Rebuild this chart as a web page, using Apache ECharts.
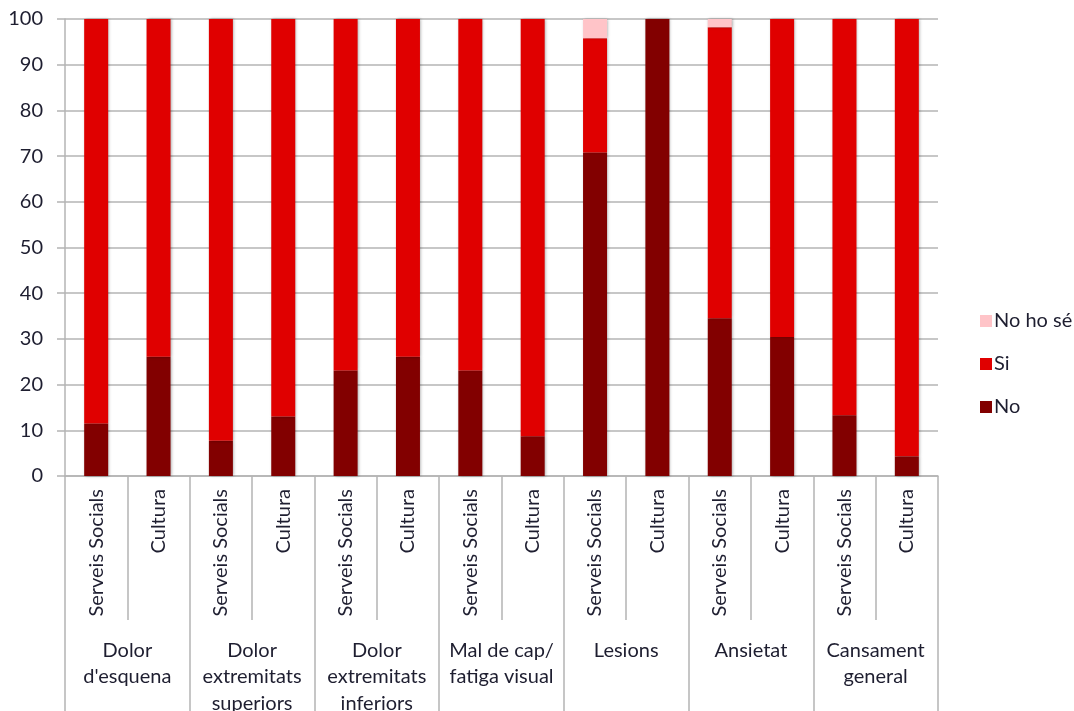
<!DOCTYPE html>
<html>
<head>
<meta charset="utf-8">
<script src="https://cdn.jsdelivr.net/npm/echarts@6/dist/echarts.min.js"></script>
<style>
  html, body { margin: 0; padding: 0; background: #fff; overflow: hidden; }
  #chart { width: 1074px; height: 711px; }
</style>
</head>
<body>
<div id="chart"></div>
<script>
// Sub-categories (sector) per symptom group
const groups = ["Dolor\nd'esquena", "Dolor\nextremitats\nsuperiors", "Dolor\nextremitats\ninferiors",
  "Mal de cap/\nfatiga visual", "Lesions", "Ansietat", "Cansament\ngeneral"];
const sectors = ["Serveis Socials", "Cultura"];
const categories = [];
groups.forEach(() => sectors.forEach(s => categories.push(s)));

// Percentages for each answer, one value per bar (group x sector)
const noValues     = [11.5, 26.1, 7.7, 13.0, 23.1, 26.1, 23.1, 8.7, 70.8, 100, 34.5, 30.4, 13.3, 4.3];
const noHoSeValues = [0, 0, 0, 0, 0, 0, 0, 0, 4.2, 0, 1.8, 0, 0, 0];
const siValues     = [88.5, 73.9, 92.3, 87.0, 76.9, 73.9, 76.9, 91.3, 25.0, 0, 63.7, 69.6, 86.7, 95.7];

const yTicks = { min: 0, max: 100, interval: 10 };

const FONT = 'Lato, "Open Sans", sans-serif';
const TEXT = '#1e1e30';
const GRID = '#b4b4b4';
const FS = 20;

const chart = echarts.init(document.getElementById('chart'), null, { renderer: 'canvas' });

const barShadow = { shadowColor: 'rgba(0,0,0,0.35)', shadowBlur: 3, shadowOffsetX: 1, shadowOffsetY: 0 };

chart.setOption({
  animation: false,
  backgroundColor: '#ffffff',
  textStyle: { fontFamily: FONT },
  grid: { left: 65, right: 136, top: 19, bottom: 235, containLabel: false, outerBoundsMode: 'none' },
  legend: {
    orient: 'vertical',
    left: 975,
    top: 306,
    itemWidth: 12,
    itemHeight: 12,
    itemGap: 23,
    icon: 'rect',
    textStyle: { fontFamily: FONT, fontSize: FS, color: TEXT, padding: [0, 0, 0, -3] },
    data: ['No ho sé', 'Si', 'No']
  },
  xAxis: [
    {
      type: 'category',
      data: categories,
      position: 'bottom',
      axisLine: { show: true, lineStyle: { color: GRID, width: 1.5 } },
      axisTick: { show: true, length: 144, lineStyle: { color: GRID, width: 1.5 } },
      axisLabel: { rotate: 90, margin: 13, interval: 0, fontFamily: FONT, fontSize: FS, color: TEXT },
      splitLine: { show: false }
    },
    {
      type: 'category',
      data: groups,
      position: 'bottom',
      axisLine: { show: false },
      axisTick: { show: true, length: 236, lineStyle: { color: GRID, width: 1.5 } },
      axisLabel: { interval: 0, margin: 161, fontFamily: FONT, fontSize: FS, color: TEXT, lineHeight: 26.5,
        verticalAlign: 'top' },
      splitLine: { show: false }
    }
  ],
  yAxis: {
    type: 'value',
    min: yTicks.min,
    max: yTicks.max,
    interval: yTicks.interval,
    axisLine: { show: true, lineStyle: { color: GRID, width: 1.5 } },
    axisTick: { show: true, length: 8, lineStyle: { color: GRID, width: 1.5 } },
    axisLabel: { margin: 22, fontFamily: FONT, fontSize: FS, color: TEXT },
    splitLine: { show: true, lineStyle: { color: GRID, width: 1.5 } }
  },
  series: [
    { name: 'No', type: 'bar', stack: 'total', xAxisIndex: 0, barWidth: 24, data: noValues,
      itemStyle: Object.assign({ color: '#820000' }, barShadow) },
    { name: 'Si', type: 'bar', stack: 'total', xAxisIndex: 0, barWidth: 24, data: siValues,
      itemStyle: Object.assign({ color: '#e00000' }, barShadow) },
    { name: 'No ho sé', type: 'bar', stack: 'total', xAxisIndex: 0, barWidth: 24, data: noHoSeValues,
      itemStyle: Object.assign({ color: '#ffc4c8' }, barShadow) }
  ]
});
</script>
</body>
</html>
